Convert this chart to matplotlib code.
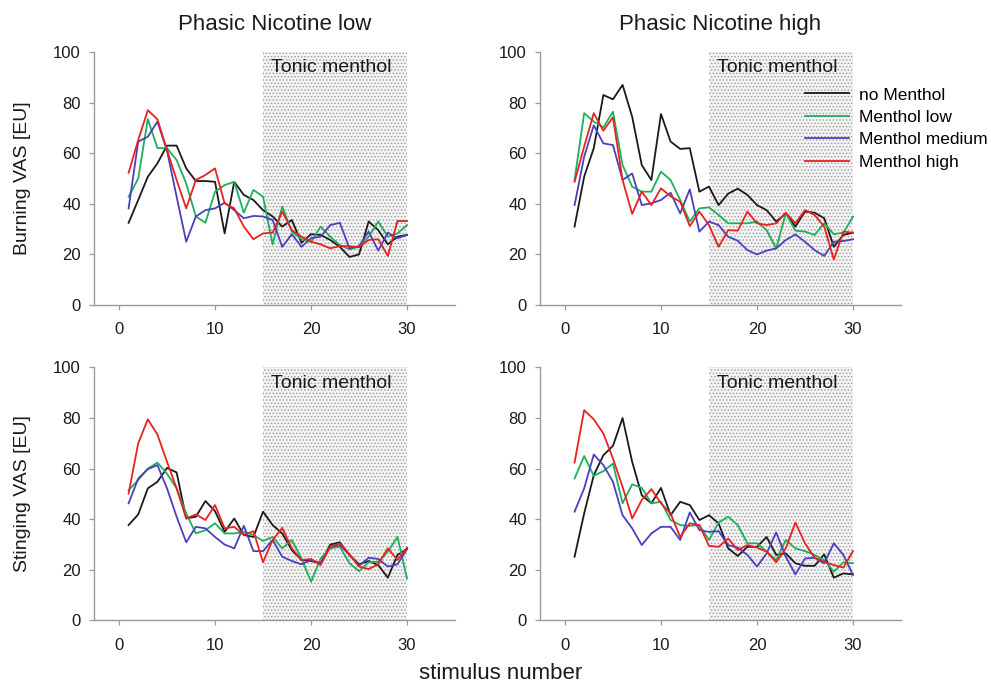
import numpy as np
import matplotlib
matplotlib.use("Agg")
import matplotlib.pyplot as plt

plt.rcParams["font.family"] = ["Liberation Sans", "DejaVu Sans"]
plt.rcParams["hatch.linewidth"] = 0.6

stimulus = np.arange(1, 31)
series_names = ["no Menthol", "Menthol low", "Menthol medium", "Menthol high"]
series_colors = ["#1a1a1a", "#1fae5e", "#4b3fbf", "#e8211e"]

# burning, phasic nicotine low
burn_low_none = [32.5, 41.5, 50.7, 56, 63, 63, 54, 49, 49, 48.7, 28.3, 48.7, 43.5, 41.5, 37.5,
                 35, 31, 33.6, 24.6, 28, 27.7, 25.7, 23, 19, 20, 33, 29.6, 24, 27, 27.7]
burn_low_low = [42.8, 50, 73.5, 62, 62, 57.3, 48, 35, 32.5, 44.8, 47.4, 48.7, 36.5, 45.5, 42.8,
                24, 38.9, 29, 26, 25, 31, 27, 23.7, 22, 23, 27, 33, 27, 28.3, 31.6]
burn_low_med = [38.2, 64.6, 66.5, 72.5, 61, 42.8, 25, 35, 37.5, 38.2, 40.4, 37.5, 34.3, 35.2, 35,
                33.6, 23, 28, 23, 26.4, 27, 31.6, 32.5, 22.4, 23.3, 29, 21.5, 28.6, 26.4, 27.7]
burn_low_high = [52.3, 65.2, 77, 73.4, 61.3, 49.4, 38.2, 49.4, 51.4, 54, 40.2, 38.2, 31, 26, 28.3,
                 28.6, 36.9, 29.6, 27, 25, 24, 22.4, 23.3, 23.3, 22.8, 25.7, 26, 19.4, 33.2, 33.2]

# burning, phasic nicotine high
burn_high_none = [31, 50.7, 62, 83, 81.3, 87, 74.4, 55.3, 49.4, 75.5, 64.6, 61.7, 62, 44.8, 46.8,
                  39.5, 44, 46, 43.5, 39.5, 37.5, 33, 36.2, 31, 36.9, 36.5, 34.3, 23, 27.7, 28.6]
burn_high_low = [49.4, 75.8, 72.5, 70.2, 76.4, 55.3, 46.8, 44.8, 44.8, 52.7, 49.4, 41.5, 33, 38.2, 38.6,
                 35.6, 32.3, 32.3, 32.3, 33, 29.6, 22.4, 36.2, 29.4, 29, 27.7, 32.3, 28, 28.6, 34.9]
burn_high_med = [39.5, 58.6, 71, 63.9, 63.2, 49.4, 52, 39.5, 40.2, 41.5, 44.4, 36.2, 45.7, 29, 33,
                 31.6, 27, 25.4, 21.7, 20, 21.5, 22.4, 25.7, 27.9, 25, 21.7, 19.4, 25, 25.3, 26]
burn_high_high = [48.7, 62.6, 75.8, 68.9, 74.2, 49.4, 36, 44.8, 39.5, 46.1, 43, 40.8, 31.2, 36.9, 31.6,
                  23, 29.6, 29.4, 36.9, 32.3, 31.6, 32.3, 36.5, 32.3, 37.5, 35.6, 31, 18, 29, 28.6]

# stinging, phasic nicotine low
sting_low_none = [37.7, 41.9, 52.2, 54.8, 60.3, 58.5, 40.3, 41, 47.2, 43.2, 35, 40.3, 33.8, 33, 43,
                  37.7, 34.4, 27.8, 23.9, 23.5, 22.6, 30, 30.9, 25.9, 22.2, 23.5, 21.9, 16.9, 25.9, 28.2]
sting_low_low = [51.5, 55.5, 60, 62.4, 58, 52.2, 42.3, 34.4, 35.7, 38.4, 34.4, 34.4, 35, 33.8, 31.4,
                 33, 28.5, 31.8, 24.5, 15.3, 24.5, 28.5, 29.1, 22.6, 19.5, 23, 23.2, 27.2, 33, 16.6]
sting_low_med = [46.3, 56.1, 59.8, 61.4, 52.2, 41, 30.9, 37, 36.4, 33, 30, 28.5, 37.4, 27.4, 27.4,
                 31.8, 25.2, 23.5, 22.2, 23.9, 22.6, 29.1, 29.8, 25.9, 21.6, 24.8, 24.3, 21.3, 22.2, 28.2]
sting_low_high = [50.2, 70, 79.5, 73.5, 62.7, 52.2, 40.3, 41.9, 39.7, 45.6, 36.4, 37, 33.8, 35.3, 23,
                  31.8, 36.6, 28.5, 23.9, 24.3, 21.9, 29.1, 30.5, 26.1, 21.3, 20.3, 22.2, 28.5, 23.9, 28.8]

# stinging, phasic nicotine high
sting_high_none = [25.2, 42.3, 57.4, 65.3, 69, 80, 62.7, 49.5, 46.3, 52.4, 41.6, 46.9, 45.6, 39.7, 41.6,
                   38.4, 28.5, 25.5, 29.1, 29.1, 33, 25.9, 26.5, 22.6, 21.6, 21.6, 26.1, 16.9, 18.6, 18.2]
sting_high_low = [56.1, 65, 57.2, 59, 62, 46.3, 53.8, 52.4, 46.3, 46.9, 39.7, 37.7, 37.4, 37.7, 31.8,
                  38.7, 41, 37.7, 30.5, 30.5, 27.2, 23.9, 31.8, 28.5, 27.4, 25.9, 23.9, 19.3, 23, 22.6]
sting_high_med = [43, 52.2, 65.6, 61.4, 54.8, 41.6, 36.4, 29.8, 34.4, 37, 37, 31.8, 42.7, 35.7, 35,
                  35.3, 29.8, 28.8, 25.9, 21.3, 26.5, 34.8, 25.2, 18.2, 24.5, 24.8, 22.6, 30.5, 25.9, 18]
sting_high_high = [62.4, 83.1, 79.5, 73.9, 64, 52.8, 40.3, 47.6, 51.9, 46.3, 42.3, 33, 38.4, 37.7, 29.5,
                   29.1, 32.4, 27.8, 29.8, 28.8, 27.2, 23, 28.5, 38.7, 30.5, 24.8, 23.2, 21.9, 20.9, 27.4]

panels = [
    [burn_low_none, burn_low_low, burn_low_med, burn_low_high],
    [burn_high_none, burn_high_low, burn_high_med, burn_high_high],
    [sting_low_none, sting_low_low, sting_low_med, sting_low_high],
    [sting_high_none, sting_high_low, sting_high_med, sting_high_high],
]
titles = ["Phasic Nicotine low", "Phasic Nicotine high"]
ylabels = ["Burning VAS [EU]", "Stinging VAS [EU]"]
tonic_start, tonic_end = 15, 30

fig = plt.figure(figsize=(9.91, 6.85), dpi=100)
ax_w, ax_h = 0.3643, 0.3694
positions = [(0.0949, 0.5547), (0.5449, 0.5547), (0.0949, 0.0942), (0.5449, 0.0942)]
axes = [fig.add_axes([x, y, ax_w, ax_h]) for x, y in positions]

for i, ax in enumerate(axes):
    ax.fill_between([tonic_start, tonic_end], 0, 100, facecolor="#f4f4f4",
                    hatch=".....", edgecolor="#999999", linewidth=0, zorder=1)
    for vals, name, col in zip(panels[i], series_names, series_colors):
        ax.plot(stimulus, vals, color=col, lw=1.3, label=name, zorder=3)
    ax.text(15.8, 93.8, "Tonic menthol", fontsize=14, ha="left", va="center",
            color="#1a1a1a", zorder=4)
    ax.set_xlim(-2.6, 35)
    ax.set_ylim(0, 100)
    ax.set_xticks([0, 10, 20, 30])
    ax.set_yticks(range(0, 101, 20))
    for side in ["top", "right"]:
        ax.spines[side].set_visible(False)
    for side in ["left", "bottom"]:
        ax.spines[side].set_color("#9a9a9a")
        ax.spines[side].set_linewidth(1.0)
    ax.tick_params(axis="both", direction="out", length=3.5, width=0.9,
                   color="#9a9a9a", labelsize=12, labelcolor="#1a1a1a")
    ax.tick_params(axis="x", pad=9)
    ax.tick_params(axis="y", pad=6)
    if i < 2:
        ax.set_title(titles[i], fontsize=16, pad=16, color="#1a1a1a")
    if i % 2 == 0:
        ax.set_ylabel(ylabels[i // 2], fontsize=14, labelpad=16, color="#1a1a1a")

axes[1].legend(loc="upper left", bbox_to_anchor=(0.735, 0.86), frameon=False,
               fontsize=12.5, handlelength=2.5, handletextpad=0.6, labelspacing=0.42,
               borderpad=0, borderaxespad=0)

fig.text(0.505, 0.002, "stimulus number", fontsize=16, ha="center", va="bottom",
         color="#1a1a1a")

fig.savefig("out.png", dpi=100)
